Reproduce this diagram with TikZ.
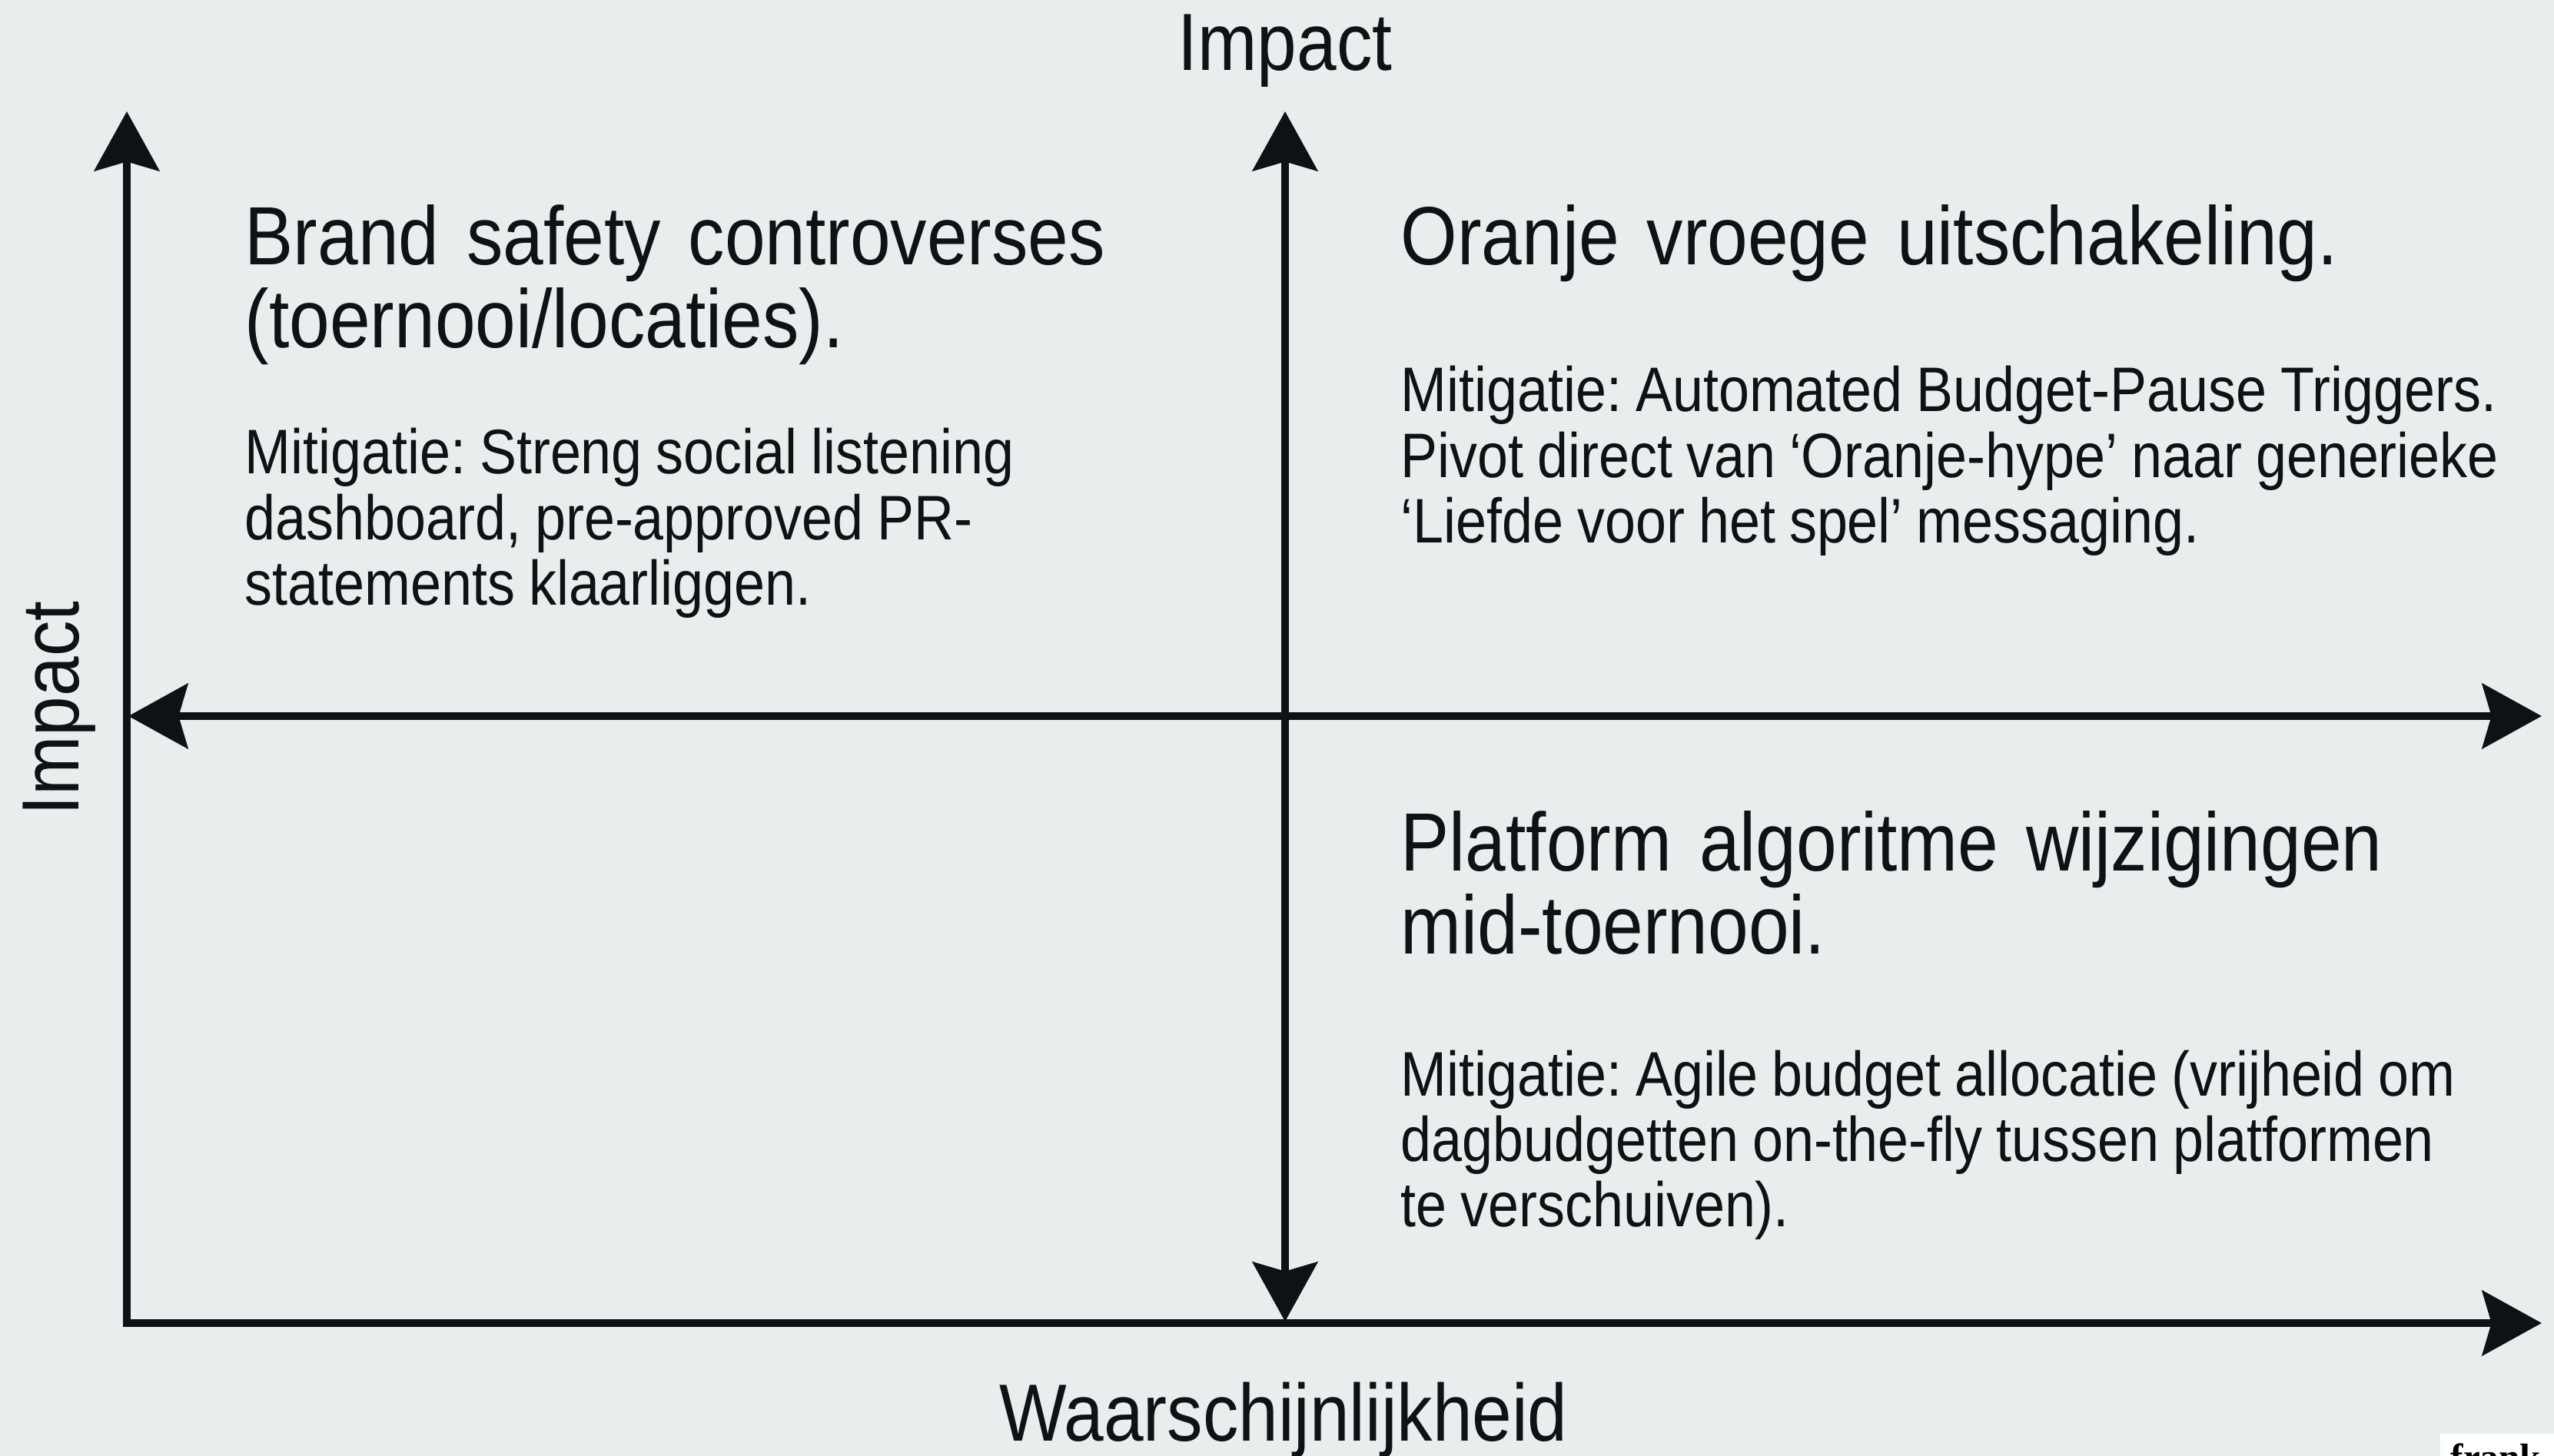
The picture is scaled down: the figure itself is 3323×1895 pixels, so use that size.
\documentclass[tikz,border=0pt]{standalone}
\usepackage{fontspec}
\setmainfont{Liberation Sans}[FakeStretch=0.88]
\newfontfamily\bodyfont{Liberation Sans}[FakeStretch=0.877]
\newfontfamily\markfont{Liberation Serif}[BoldFont=*-Bold]
\usetikzlibrary{arrows.meta}
\definecolor{paper}{RGB}{233,237,238}
\definecolor{ink}{RGB}{14,18,20}
\newcommand\tightspaces{\spaceskip=0.22em\relax}
\frenchspacing
\begin{document}
\begin{tikzpicture}[x=0.01cm,y=-0.01cm,
  axis/.style={line width=2.85pt,draw=ink,
    arrows={Stealth[length=22pt,width=24pt,inset=3.4pt]-Stealth[length=22pt,width=24pt,inset=3.4pt]}},
  axislabel/.style={inner sep=0pt,text=ink,font=\fontsize{30pt}{36pt}\selectfont},
  heading/.style={inner sep=0pt,anchor=base west,align=left,text width=16cm,text=ink,
    font=\fontsize{30.6pt}{30.6pt}\selectfont},
  body/.style={inner sep=0pt,anchor=base west,align=left,text width=16cm,text=ink,
    font=\bodyfont\fontsize{23.3pt}{24.2pt}\selectfont}]
  % canvas
  \useasboundingbox (0,0) rectangle (3323,1895);
  \clip (0,0) rectangle (3323,1895);
  \fill[paper] (0,0) rectangle (3323,1895);

  % axis end points
  \coordinate (ytop) at (165,145);
  \coordinate (origin) at (165,1722);
  \coordinate (xend) at (3307,1722);
  \coordinate (mtop) at (1672,145);
  \coordinate (mbot) at (1672,1720);
  \coordinate (hleft) at (167,932);
  \coordinate (hright) at (3307,932);

  % outer axes and quadrant dividers
  \draw[axis,line join=miter] (ytop) -- (origin) -- (xend);
  \draw[axis] (mtop) -- (mbot);
  \draw[axis] (hleft) -- (hright);

  % axis labels
  \node[axislabel,anchor=base] (ttl) at (1672,92) {Impact};
  \node[axislabel,anchor=base,rotate=90] (ltl) at (103,922) {Impact};
  \node[axislabel,anchor=base] (btl) at (1670,1875) {Waarschijnlijkheid};

  % top-left quadrant
  \node[heading] (h1) at (318,345) {Brand safety controverses\\(toernooi/locaties).};
  \node[body] (b1) at (318,617) {\tightspaces Mitigatie: Streng social listening\\dashboard, pre-approved PR-\\statements klaarliggen.};

  % top-right quadrant
  \node[heading] (h2) at (1822,345) {Oranje vroege uitschakeling.};
  \node[body] (b2) at (1822,536) {\tightspaces Mitigatie: Automated Budget-Pause Triggers.\\Pivot direct van ‘Oranje-hype’ naar generieke\\‘Liefde voor het spel’ messaging.};

  % bottom-right quadrant
  \node[heading] (h3) at (1822,1134) {Platform algoritme wijzigingen\\mid-toernooi.};
  \node[body] (b3) at (1822,1426) {\tightspaces Mitigatie: Agile budget allocatie (vrijheid om\\dagbudgetten on-the-fly tussen platformen\\te verschuiven).};

  % corner mark
  \fill[white] (3175,1866) rectangle (3323,1895);
  \node[inner sep=0pt,anchor=base west,font=\markfont\bfseries\fontsize{14pt}{16pt}\selectfont] (mark) at (3188,1913) {frank};
\end{tikzpicture}
\end{document}
